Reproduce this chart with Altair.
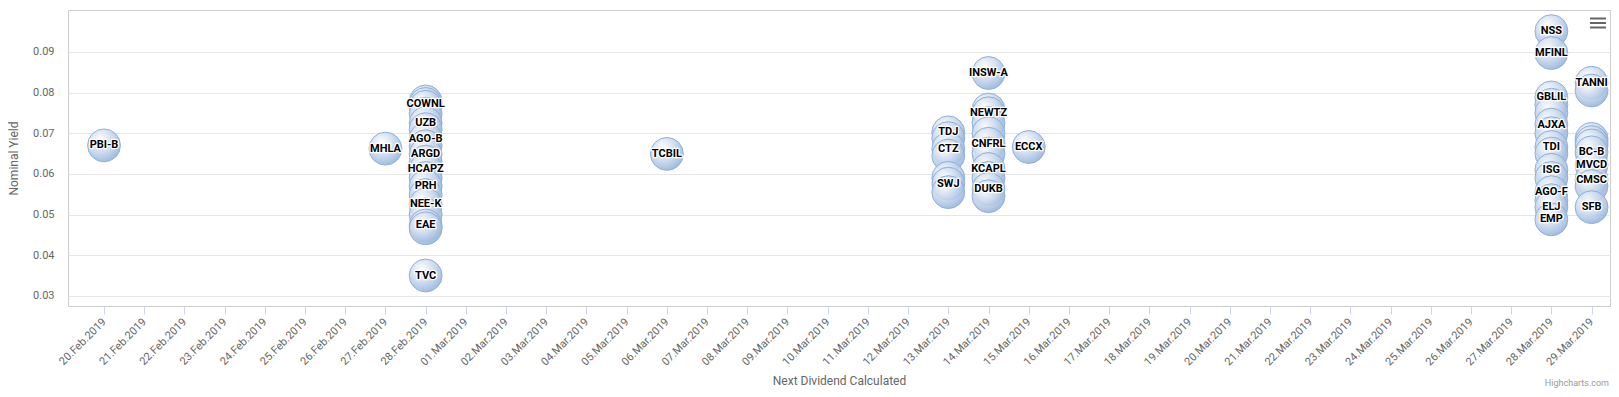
import altair as alt
import pandas as pd

# ---------------- data ----------------
tickers = [
    "PBI-B",
    "MHLA",
    "", "COWNL", "", "", "UZB", "", "AGO-B", "", "ARGD", "", "HCAPZ", "", "PRH", "", "NEE-K", "", "EAE", "", "TVC",
    "TCBIL",
    "TDJ", "", "CTZ", "", "", "SWJ", "",
    "INSW-A", "", "NEWTZ", "", "", "CNFRL", "", "KCAPL", "", "DUKB", "",
    "ECCX",
    "NSS", "MFINL", "GBLIL", "", "", "AJXA", "", "TDI", "", "ISG", "", "AGO-F", "", "ELJ", "EMP",
    "TANNI", "", "", "", "", "BC-B", "MVCD", "CMSC", "", "SFB",
]
dates = (
    ["2019-02-20"]
    + ["2019-02-27"]
    + ["2019-02-28"] * 19
    + ["2019-03-06"]
    + ["2019-03-13"] * 7
    + ["2019-03-14"] * 11
    + ["2019-03-15"]
    + ["2019-03-28"] * 15
    + ["2019-03-29"] * 10
)
yields = [
    0.0670,
    0.0662,
    0.0778, 0.0772, 0.0765, 0.0748, 0.0725, 0.0710, 0.0686, 0.0668, 0.0648, 0.0630, 0.0611, 0.0590, 0.0569,
    0.0548, 0.0525, 0.0500, 0.0473, 0.0466, 0.0350,
    0.0649,
    0.0702, 0.0688, 0.0662, 0.0645, 0.0590, 0.0576, 0.0555,
    0.0848, 0.0758, 0.0749, 0.0725, 0.0700, 0.0674, 0.0650, 0.0612, 0.0590, 0.0563, 0.0545,
    0.0666,
    0.0951, 0.0897, 0.0788, 0.0770, 0.0750, 0.0721, 0.0700, 0.0666, 0.0650, 0.0610, 0.0590, 0.0555, 0.0535,
    0.0518, 0.0488,
    0.0824, 0.0805, 0.0686, 0.0678, 0.0670, 0.0653, 0.0622, 0.0586, 0.0570, 0.0518,
]
tick_days = pd.date_range("2019-02-20", "2019-03-29")
y_ticks = [0.03, 0.04, 0.05, 0.06, 0.07, 0.08, 0.09]

df = pd.DataFrame({"ticker": tickers, "date": dates, "yield": yields})

FONT = "Roboto"
GREY = "#666666"

x_enc = alt.X(
    "date:T",
    title="Next Dividend Calculated",
    scale=alt.Scale(
        type="utc",
        nice=False,
        domain=[
            alt.DateTime(year=2019, month=2, date=19, hours=2, minutes=30, utc=True),
            alt.DateTime(year=2019, month=3, date=29, hours=11, utc=True),
        ],
    ),
    axis=alt.Axis(
        values=[alt.DateTime(year=d.year, month=d.month, date=d.day, utc=True) for d in tick_days],
        labelExpr="utcFormat(datum.value, '%d.%b.%Y')",
        labelAngle=-45,
        labelAlign="right",
        labelBaseline="middle",
        labelPadding=6,
        labelFont=FONT,
        labelFontSize=11,
        labelColor=GREY,
        labelOverlap=False,
        tickColor="#ccd6eb",
        tickSize=8,
        domain=False,
        grid=False,
        titleFont=FONT,
        titleFontSize=12,
        titleFontWeight="normal",
        titleColor=GREY,
        titlePadding=8,
    ),
)
y_enc = alt.Y(
    "yield:Q",
    title="Nominal Yield",
    scale=alt.Scale(domain=[0.0275, 0.1003], nice=False, zero=False),
    axis=alt.Axis(
        values=y_ticks,
        format=".2f",
        grid=True,
        gridColor="#e6e6e6",
        domain=False,
        ticks=False,
        labelPadding=14,
        labelFont=FONT,
        labelFontSize=11,
        labelColor=GREY,
        titleFont=FONT,
        titleFontSize=12,
        titleFontWeight="normal",
        titleColor=GREY,
        titlePadding=12,
    ),
)

bubble_fill = {
    "gradient": "radial",
    "x1": 0.38, "y1": 0.32, "r1": 0.0,
    "x2": 0.38, "y2": 0.32, "r2": 0.75,
    "stops": [
        {"offset": 0.0, "color": "#ffffff"},
        {"offset": 0.45, "color": "#d0ddef"},
        {"offset": 1.0, "color": "#8badd8"},
    ],
}

base = alt.Chart(df)

bubbles = base.mark_circle(
    size=1080, fill=bubble_fill, fillOpacity=0.88, stroke="#8fb0da", strokeWidth=1, opacity=1
).encode(x=x_enc, y=y_enc)

labelled = base.transform_filter(alt.datum.ticker != "")
outline = labelled.mark_text(
    font=FONT, fontSize=11, fontWeight="bold", fill="white", stroke="white",
    strokeWidth=2.5, strokeJoin="round"
).encode(x=x_enc, y=y_enc, text="ticker:N")
labels = labelled.mark_text(
    font=FONT, fontSize=11, fontWeight="bold", fill="black"
).encode(x=x_enc, y=y_enc, text="ticker:N")

credit = alt.Chart(pd.DataFrame({"t": ["Highcharts.com"]})).mark_text(
    font=FONT, fontSize=9, color="#999999", align="right", baseline="middle"
).encode(text="t:N", x=alt.value(1541), y=alt.value(373))

menu_bars = [
    alt.Chart(pd.DataFrame({"k": [i]})).mark_rule(color=GREY, strokeWidth=2).encode(
        x=alt.value(1522), x2=alt.value(1538), y=alt.value(yv)
    )
    for i, yv in enumerate([8.5, 13, 17.5])
]

chart = alt.layer(bubbles, outline, labels, credit, *menu_bars).properties(
    width=1542,
    height=296,
    autosize=alt.AutoSizeParams(type="none"),
    padding={"left": 60, "top": 2, "right": 1, "bottom": 83},
).configure_view(stroke="#cccccc", strokeWidth=1)

chart.save("out.html", embed_options={"renderer": "svg", "actions": False})
